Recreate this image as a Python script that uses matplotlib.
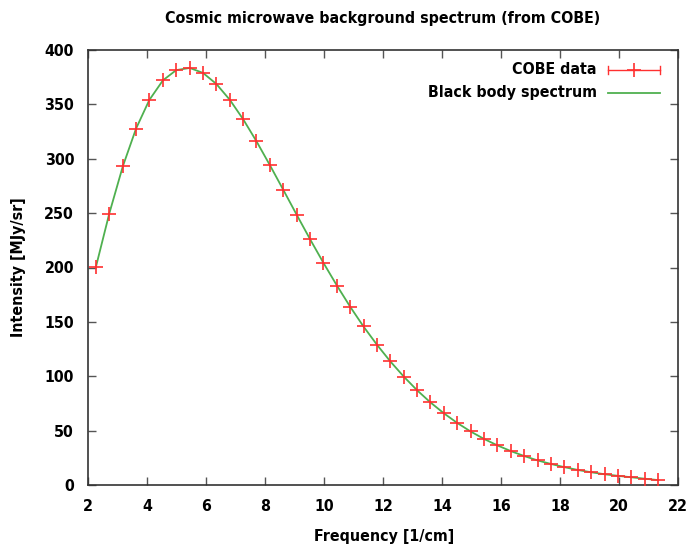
import matplotlib
matplotlib.use("Agg")
import matplotlib.pyplot as plt
from matplotlib.lines import Line2D
from matplotlib import font_manager as fm

# COBE FIRAS data
freq = [2.27, 2.72, 3.18, 3.63, 4.08, 4.54, 4.99, 5.45, 5.90, 6.35, 6.81, 7.26,
        7.71, 8.17, 8.62, 9.08, 9.53, 9.98, 10.44, 10.89, 11.34, 11.80, 12.25,
        12.71, 13.16, 13.61, 14.07, 14.52, 14.97, 15.43, 15.88, 16.34, 16.79,
        17.24, 17.70, 18.15, 18.61, 19.06, 19.51, 19.97, 20.42, 20.87, 21.33]
intensity = [200.723, 249.508, 293.024, 327.770, 354.081, 372.079, 381.493,
             383.478, 378.901, 368.833, 354.063, 336.278, 316.076, 293.924,
             271.432, 248.239, 225.940, 204.327, 183.262, 163.830, 145.750,
             128.835, 113.568, 99.451, 87.036, 75.876, 65.766, 57.008, 49.223,
             42.267, 36.352, 31.062, 26.580, 22.644, 19.255, 16.391, 13.811,
             11.716, 9.921, 8.364, 7.087, 5.801, 4.523]
blackbody = [200.7, 249.5, 293.0, 327.8, 354.1, 372.1, 381.5, 383.5, 378.9,
             368.8, 354.1, 336.3, 316.1, 293.9, 271.4, 248.2, 225.9, 204.3,
             183.3, 163.8, 145.7, 128.8, 113.6, 99.5, 87.0, 75.9, 65.8, 57.0,
             49.2, 42.3, 36.4, 31.1, 26.6, 22.6, 19.3, 16.4, 13.8, 11.7, 9.9,
             8.4, 7.1, 5.8, 4.5]
xticks = [2, 4, 6, 8, 10, 12, 14, 16, 18, 20, 22]
yticks = [0, 50, 100, 150, 200, 250, 300, 350, 400]

names = sorted({f.name for f in fm.fontManager.ttflist})
cands = [n for n in ["DejaVu Sans Condensed", "Liberation Sans Narrow"] if n in names]
FAM = cands + ["DejaVu Sans"]

RED = "#ff3030"
GREEN = "#4fb04f"
FS = 11.4
FP = dict(family=FAM, fontsize=FS, fontweight='bold', fontstretch='condensed')

fig = plt.figure(figsize=(6.87, 5.49), dpi=100)
ax = fig.add_axes([88/687, 1-485/549, (678-88)/687, (485-50)/549])

ax.plot(freq, blackbody, color=GREEN, lw=1.3, zorder=2)
ax.plot(freq, intensity, linestyle='none', marker='+', markersize=10,
        markeredgewidth=1.2, color=RED, zorder=3)

ax.set_xlim(2, 22)
ax.set_ylim(0, 400)
ax.set_xticks(xticks)
ax.set_yticks(yticks)
ax.tick_params(direction='in', length=6, width=1, top=True, right=True,
               color='#555555', pad=10)
for lab in ax.get_xticklabels() + ax.get_yticklabels():
    lab.set_fontproperties(fm.FontProperties(family=FAM, weight='bold', stretch='condensed', size=FS))
for s in ax.spines.values():
    s.set_color('#333333')
    s.set_linewidth(1.2)

fig.text(383/687, 1-18/549, "Cosmic microwave background spectrum (from COBE)",
         ha='center', va='center', **FP)
fig.text(384/687, 1-537/549, "Frequency [1/cm]", ha='center', va='center', **FP)
fig.text(19/687, 1-267/549, "Intensity [MJy/sr]", ha='center', va='center',
         rotation=90, **FP)

def px(x, y):
    return ((x - 88) / (678 - 88), (485 - y) / (485 - 50))

tx, ty = px(597, 70)
ax.text(tx, ty, "COBE data", transform=ax.transAxes, ha='right', va='center', **FP)
tx, ty = px(597, 93)
ax.text(tx, ty, "Black body spectrum", transform=ax.transAxes, ha='right', va='center', **FP)

x0, y0 = px(608, 70)
x1, _ = px(660, 70)
ax.add_line(Line2D([x0, x1], [y0, y0], transform=ax.transAxes, color=RED, lw=1))
for cx in [x0, x1]:
    _, ya = px(0, 66)
    _, yb = px(0, 74)
    ax.add_line(Line2D([cx, cx], [ya, yb], transform=ax.transAxes, color=RED, lw=1))
ax.add_line(Line2D([(x0 + x1) / 2], [y0], transform=ax.transAxes, color=RED,
                   marker='+', markersize=10, markeredgewidth=1.2, linestyle='none'))
x0, y0 = px(608, 93)
x1, _ = px(660, 93)
ax.add_line(Line2D([x0, x1], [y0, y0], transform=ax.transAxes, color=GREEN, lw=1.3))

fig.savefig("out.png", dpi=100)
